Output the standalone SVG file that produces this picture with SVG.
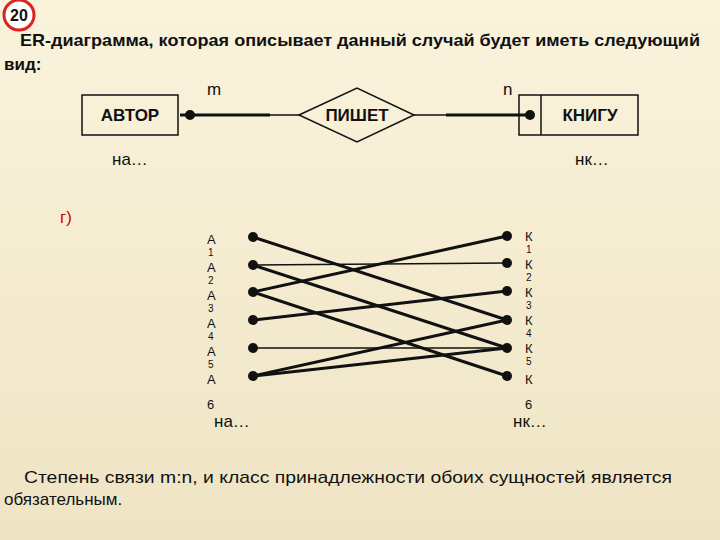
<svg xmlns="http://www.w3.org/2000/svg" width="720" height="540" viewBox="0 0 720 540">
<defs>
<linearGradient id="bg" x1="0" y1="0" x2="0" y2="1"><stop offset="0" stop-color="#faf3dc"/><stop offset="1" stop-color="#efe4c4"/></linearGradient>
</defs>
<style>
text{font-family:"Liberation Sans",Arial,sans-serif;fill:#111}
.t{font-size:17px}
.s{font-size:17px}
.l{stroke:#111;stroke-width:3;fill:none}
.d{fill:#111}
.b{fill:none;stroke:#111;stroke-width:1.5}
.a{font-size:13px}
.n{font-size:10px}
</style>
<rect width="720" height="540" fill="url(#bg)"/>
<circle cx="19" cy="15" r="15" fill="#fff" stroke="#d22" stroke-width="3"/>
<text x="19" y="21" text-anchor="middle" font-size="16" font-weight="bold">20</text>
<text class="t" x="20" y="46" textLength="680" lengthAdjust="spacingAndGlyphs" font-weight="bold">ER-диаграмма, которая описывает данный случай будет иметь следующий</text>
<text class="t" x="4" y="70" font-weight="bold">вид:</text>
<text class="s" x="207" y="95">m</text>
<text class="s" x="503" y="95">n</text>
<g id="avtor"><rect class="b" x="82" y="95" width="96" height="40"/><text class="s" x="130" y="121" text-anchor="middle" font-weight="bold">АВТОР</text></g>
<g id="pishet"><polygon class="b" points="299,115 357,88 414,115 357,142"/><text class="s" x="357" y="121" text-anchor="middle" font-weight="bold">ПИШЕТ</text></g>
<g id="knigu"><rect class="b" x="519" y="95" width="119" height="40"/><line class="b" x1="541" y1="95" x2="541" y2="135"/><text class="s" x="590" y="121" text-anchor="middle" font-weight="bold">КНИГУ</text></g>
<g id="connectors">
<line class="l" x1="180" y1="115" x2="270" y2="115"/><line x1="270" y1="115" x2="300" y2="115" stroke="#111" stroke-width="1.5"/>
<circle class="d" cx="190" cy="115" r="5"/>
<line x1="414" y1="115" x2="446" y2="115" stroke="#111" stroke-width="1.5"/><line class="l" x1="446" y1="115" x2="530" y2="115"/>
<circle class="d" cx="530" cy="115" r="5"/>
<g class="l" stroke-width="2.5">
<line x1="253" y1="237" x2="507" y2="320"/>
<line x1="253" y1="265" x2="507" y2="263" stroke-width="1.5"/>
<line x1="253" y1="265" x2="507" y2="348"/>
<line x1="253" y1="292" x2="507" y2="236"/>
<line x1="253" y1="292" x2="507" y2="376"/>
<line x1="253" y1="320" x2="507" y2="291"/>
<line x1="253" y1="348" x2="507" y2="348" stroke-width="1.5"/>
<line x1="253" y1="376" x2="507" y2="320"/>
<line x1="253" y1="376" x2="507" y2="348"/>
</g>
<g class="d">
<circle cx="253" cy="237" r="5"/><circle cx="253" cy="265" r="5"/><circle cx="253" cy="292" r="5"/><circle cx="253" cy="320" r="5"/><circle cx="253" cy="348" r="5"/><circle cx="253" cy="376" r="5"/>
<circle cx="507" cy="236" r="5"/><circle cx="507" cy="263" r="5"/><circle cx="507" cy="291" r="5"/><circle cx="507" cy="320" r="5"/><circle cx="507" cy="348" r="5"/><circle cx="507" cy="376" r="5"/>
</g>
</g>
<text class="s" x="112" y="165">на…</text>
<text class="s" x="575" y="165">нк…</text>
<text class="s" x="60" y="223" style="fill:#c00">г)</text>
<g>
<text class="a" x="207" y="244">А</text><text class="n" x="208" y="256">1</text>
<text class="a" x="207" y="272">А</text><text class="n" x="208" y="284">2</text>
<text class="a" x="207" y="300">А</text><text class="n" x="208" y="312">3</text>
<text class="a" x="207" y="328">А</text><text class="n" x="208" y="340">4</text>
<text class="a" x="207" y="356">А</text><text class="n" x="208" y="368">5</text>
<text class="a" x="207" y="384">А</text><text class="a" x="207" y="409">6</text>
<text class="a" x="525" y="241">К</text><text class="n" x="526" y="253">1</text>
<text class="a" x="525" y="269">К</text><text class="n" x="526" y="281">2</text>
<text class="a" x="525" y="297">К</text><text class="n" x="526" y="309">3</text>
<text class="a" x="525" y="325">К</text><text class="n" x="526" y="337">4</text>
<text class="a" x="525" y="353">К</text><text class="n" x="526" y="365">5</text>
<text class="a" x="525" y="384">К</text><text class="a" x="525" y="409">6</text>
</g>
<text class="s" x="214" y="427">на…</text>
<text class="s" x="513" y="427">нк…</text>
<text class="t" x="24" y="483" textLength="648" lengthAdjust="spacingAndGlyphs">Степень связи m:n, и класс принадлежности обоих сущностей является</text>
<text class="t" x="4" y="505">обязательным.</text>
</svg>
